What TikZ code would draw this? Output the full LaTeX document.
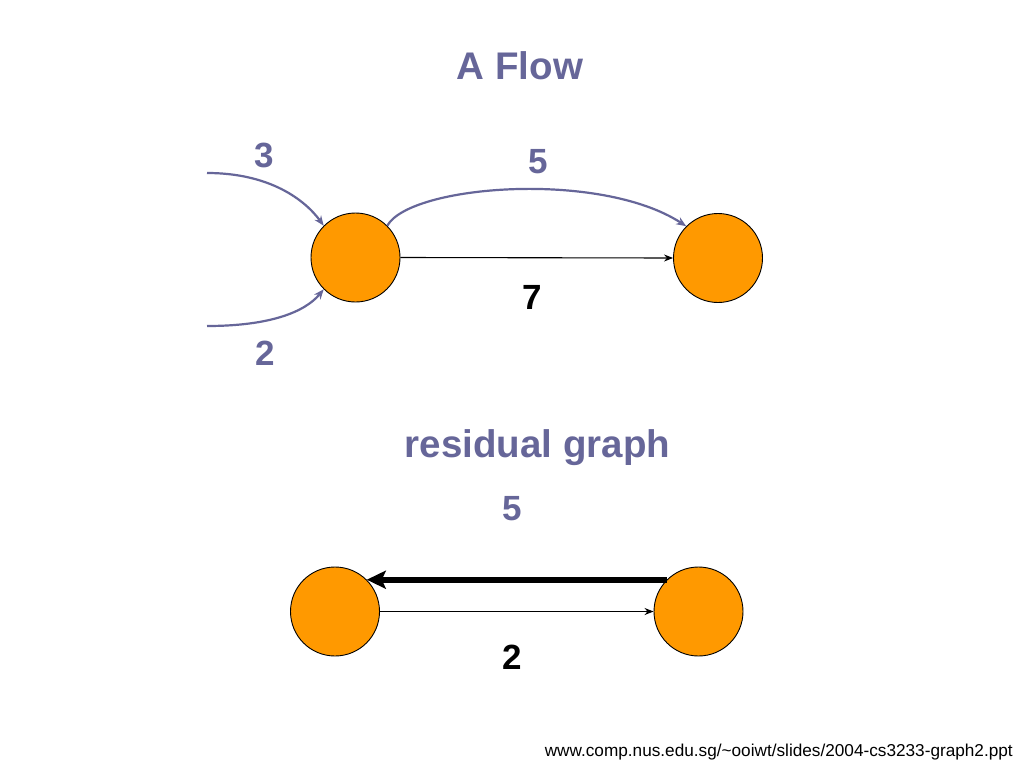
\documentclass[tikz,border=0pt]{standalone}
\usepackage{fontspec}
\setmainfont{Liberation Sans}
\usetikzlibrary{arrows.meta}
\definecolor{slateblue}{HTML}{666699}
\definecolor{vorange}{HTML}{FF9900}
\begin{document}
\begin{tikzpicture}[x=1pt,y=-1pt,
  vertex/.style={circle, draw=black, line width=0.9pt, fill=vorange, minimum size=89pt, inner sep=0pt},
  bluelbl/.style={text=slateblue, font=\fontsize{35}{40}\selectfont\bfseries, inner sep=0pt},
  blacklbl/.style={text=black, font=\fontsize{35}{40}\selectfont\bfseries, inner sep=0pt},
  titlelbl/.style={text=slateblue, font=\fontsize{38.5}{44}\selectfont\bfseries, inner sep=0pt, anchor=base},
  blueedge/.style={draw=slateblue, line width=2.2pt, -{Stealth[length=10pt,width=8pt]}},
  thinedge/.style={draw=black, line width=1.1pt, -{Stealth[length=9pt,width=7pt]}},
  thickedge/.style={draw=black, line width=6pt, -{Stealth[length=19pt,width=18pt,inset=4pt]}}]
\useasboundingbox[fill=white] (0,0) rectangle (1024,768);
% titles
\node[titlelbl] (t1) at (520,79) {A Flow};
\node[titlelbl] (t2) at (537.5,457) {residual graph};
% top graph
\node[vertex] (a) at (355.5,257.5) {};
\node[vertex] (b) at (718,258) {};
\coordinate (in1) at (207,173);
\coordinate (in2) at (207,326);
\draw[blueedge] (in1) .. controls (270,173) and (305,200) .. (a.135);
\draw[blueedge] (in2) .. controls (270,326) and (305,312) .. (a.225);
\draw[blueedge] (a.45) .. controls (410,185) and (600,170) .. (b.135);
\draw[thinedge] (a.east) -- (b.west);
\node[bluelbl] (l3) at (264,155) {3};
\node[bluelbl] (l2) at (265,353) {2};
\node[bluelbl] (l5) at (538,162) {5};
\node[blacklbl] (l7) at (532,297) {7};
% bottom graph
\node[vertex] (c) at (335,611.5) {};
\node[vertex] (d) at (698.5,611.5) {};
\draw[thinedge] (c.east) -- (d.west);
\draw[thickedge] (d.135) -- (c.45);
\node[bluelbl] (m5) at (512,509) {5};
\node[blacklbl] (m2) at (512,657) {2};
% footer
\node[anchor=base east, inner sep=0pt, font=\fontsize{17.2}{20}\selectfont] (url) at (1013,756) {www.comp.nus.edu.sg/\string~ooiwt/slides/2004-cs3233-graph2.ppt};
\end{tikzpicture}
\end{document}
